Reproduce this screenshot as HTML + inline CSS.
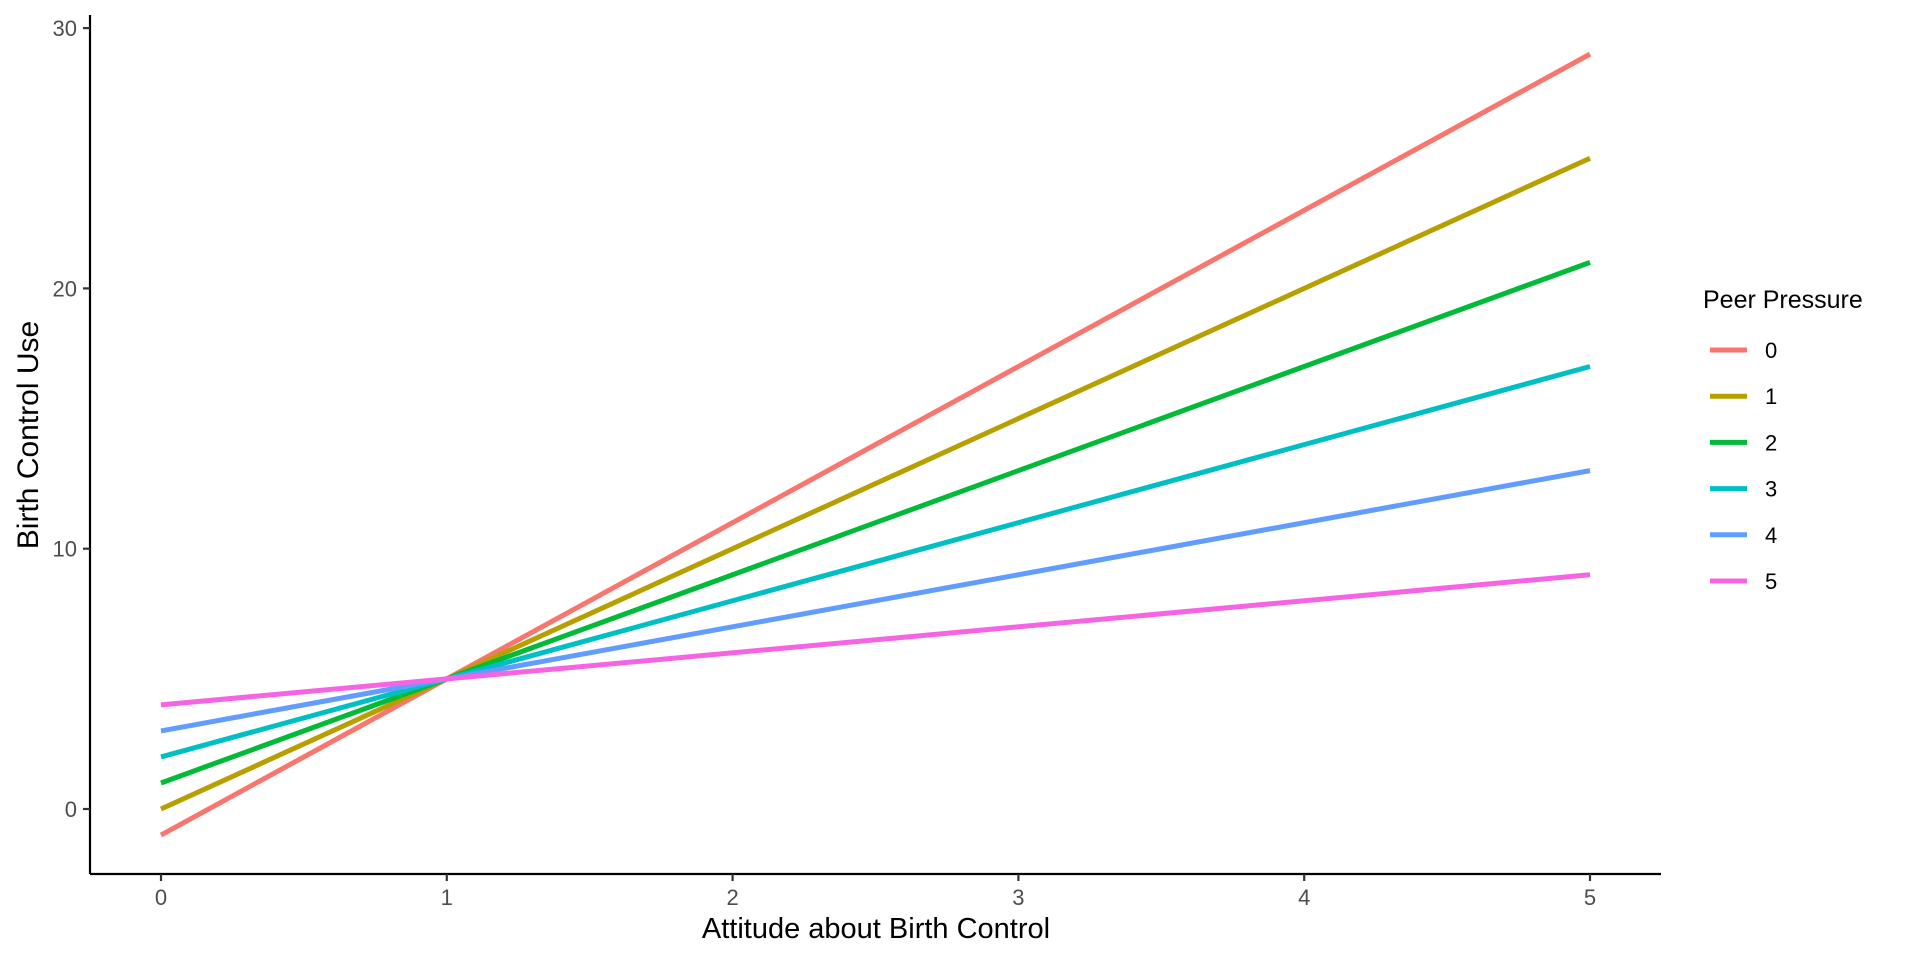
<!DOCTYPE html>
<html><head><meta charset="utf-8"><style>
body{margin:0;background:#fff}
svg{display:block;font-family:"Liberation Sans",Arial,sans-serif}
</style></head><body>
<svg id="chart" width="1920" height="960" viewBox="0 0 1920 960">
<g id="axes"></g><g id="lines"></g><g id="legend"></g>
</svg>
<script>
const groups = ["0","1","2","3","4","5"];
const xValues = [0, 5];
const startValues = [-1, 0, 1, 2, 3, 4];
const endValues = [29, 25, 21, 17, 13, 9];
const colors = ["#F8766D","#B79F00","#00BA38","#00BFC4","#619CFF","#F564E3"];
const xTicks = [0,1,2,3,4,5];
const yTicks = [0,10,20,30];

const NS = "http://www.w3.org/2000/svg";
const X = v => 161 + v * 285.8;
const Y = v => 809 - v * 26.03;
function mk(tag, attrs, parent){const e=document.createElementNS(NS,tag);for(const k in attrs)e.setAttribute(k,attrs[k]);parent.appendChild(e);return e;}
const axes=document.getElementById('axes'), lines=document.getElementById('lines'), legend=document.getElementById('legend');

let a=mk('line',{x1:90,y1:874,x2:1661,y2:874,stroke:'#000','stroke-width':2.2},axes);

a=mk('line',{x1:90,y1:15,x2:90,y2:874,stroke:'#000','stroke-width':2.2},axes);


xTicks.forEach(t=>{
  const tk=mk('line',{x1:X(t),y1:874,x2:X(t),y2:881,stroke:'#333','stroke-width':2.2},axes);
  
  const tx=mk('text',{x:X(t),y:905,'text-anchor':'middle','font-size':22,fill:'#4d4d4d'},axes);
  tx.textContent=t;
  
});
yTicks.forEach(t=>{
  const tk=mk('line',{x1:83,y1:Y(t),x2:90,y2:Y(t),stroke:'#333','stroke-width':2.2},axes);
  
  const tx=mk('text',{x:77,y:Y(t)+8,'text-anchor':'end','font-size':22,fill:'#4d4d4d'},axes);
  tx.textContent=t;
  
});
let t=mk('text',{x:876,y:938,'text-anchor':'middle','font-size':29,fill:'#000'},axes);
t.textContent='Attitude about Birth Control';

t=mk('text',{x:0,y:0,'text-anchor':'middle','font-size':30,fill:'#000',transform:'translate(38,435) rotate(-90)'},axes);
t.textContent='Birth Control Use';


groups.forEach((g,i)=>{
  const l=mk('line',{x1:X(xValues[0]),y1:Y(startValues[i]),x2:X(xValues[1]),y2:Y(endValues[i]),stroke:colors[i],'stroke-width':5},lines);
  
});

t=mk('text',{x:1703,y:308,'font-size':25,fill:'#000'},legend);
t.textContent='Peer Pressure';

groups.forEach((g,i)=>{
  const cy=350+i*46.2;
  const k=mk('line',{x1:1710,y1:cy,x2:1747,y2:cy,stroke:colors[i],'stroke-width':5},legend);
  
  const tx=mk('text',{x:1765,y:cy+8,'font-size':22,fill:'#000'},legend);
  tx.textContent=g;
  
});
</script>
</body></html>
